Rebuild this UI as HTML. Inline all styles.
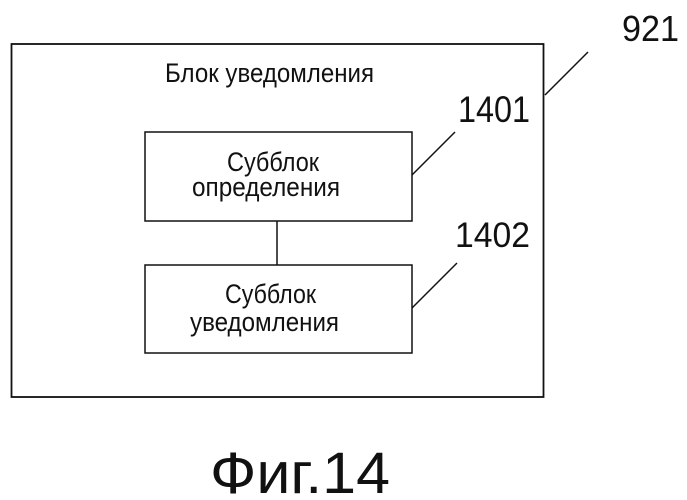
<!DOCTYPE html>
<html><head><meta charset="utf-8"><style>
html,body{margin:0;padding:0;background:#fff;}
svg{display:block;}
text{font-family:"Liberation Sans","DejaVu Sans",sans-serif;fill:#111;}
</style></head><body>
<svg width="687" height="500" viewBox="0 0 687 500" xmlns="http://www.w3.org/2000/svg">
<rect x="11.5" y="44" width="532" height="353" fill="none" stroke="#111" stroke-width="1.8"/>
<rect x="145" y="132" width="267" height="89" fill="none" stroke="#111" stroke-width="1.5"/>
<rect x="145" y="265" width="267" height="88" fill="none" stroke="#111" stroke-width="1.5"/>
<line x1="277" y1="221" x2="277" y2="265" stroke="#111" stroke-width="1.5"/>
<line x1="588" y1="52" x2="545" y2="95" stroke="#111" stroke-width="1.5"/>
<line x1="455" y1="132" x2="412" y2="175" stroke="#111" stroke-width="1.5"/>
<line x1="457" y1="263" x2="412" y2="308" stroke="#111" stroke-width="1.5"/>
<text x="622" y="41" font-size="36" textLength="57" lengthAdjust="spacingAndGlyphs">921</text>
<text x="458" y="122" font-size="37" textLength="72" lengthAdjust="spacingAndGlyphs">1401</text>
<text x="455" y="247" font-size="35" textLength="75" lengthAdjust="spacingAndGlyphs">1402</text>
<text x="165" y="82" font-size="27" textLength="209" lengthAdjust="spacingAndGlyphs">Блок уведомления</text>
<text x="227" y="171" font-size="27" textLength="92" lengthAdjust="spacingAndGlyphs">Субблок</text>
<text x="192" y="196" font-size="27" textLength="148" lengthAdjust="spacingAndGlyphs">определения</text>
<text x="225" y="303" font-size="27" textLength="91" lengthAdjust="spacingAndGlyphs">Субблок</text>
<text x="190" y="331" font-size="27" textLength="149" lengthAdjust="spacingAndGlyphs">уведомления</text>
<text x="210" y="493" font-size="58" textLength="180" lengthAdjust="spacingAndGlyphs">Фиг.14</text>
</svg>
</body></html>
